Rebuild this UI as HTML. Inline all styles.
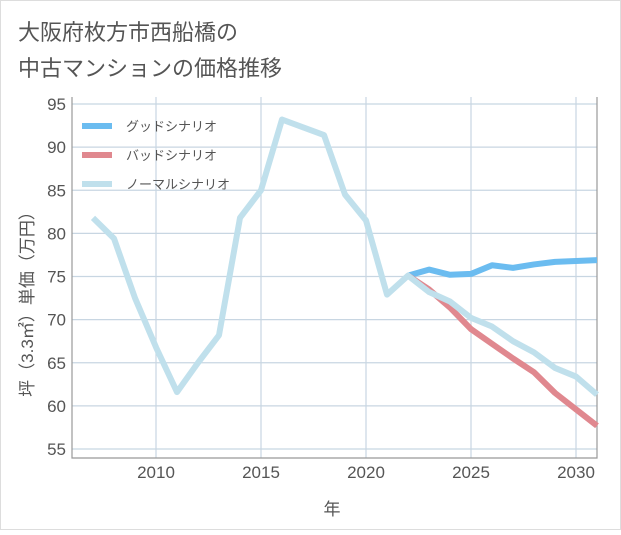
<!DOCTYPE html>
<html><head><meta charset="utf-8"><style>
body{margin:0;background:#fff;font-family:"Liberation Sans","Noto Sans CJK JP",sans-serif}
</style></head><body>
<svg width="621" height="530" xmlns="http://www.w3.org/2000/svg" id="svg">
<rect x="0.5" y="0.5" width="620" height="529" fill="#fff" stroke="#ddd"/>
<text x="18" y="40" font-size="22" fill="#555">大阪府枚方市西船橋の</text>
<text x="18" y="76" font-size="22" fill="#555">中古マンションの価格推移</text>
<g id="grid"></g>
<g id="lines"></g>
<g id="legend"></g>
<text x="332" y="515" font-size="17" fill="#555" text-anchor="middle">年</text>
<text transform="translate(33,300) rotate(-90)" font-size="17" fill="#555" text-anchor="middle">坪（3.3㎡）単価（万円）</text>
</svg>
<script>
const years=[2007,2008,2009,2010,2011,2012,2013,2014,2015,2016,2017,2018,2019,2020,2021,2022,2023,2024,2025,2026,2027,2028,2029,2030,2031];
const normalValues=[81.8,79.4,72.5,66.8,61.6,65.0,68.2,81.8,85.0,93.2,92.3,91.4,84.5,81.5,72.9,75.1,73.2,72.1,70.2,69.2,67.5,66.2,64.4,63.4,61.3];
const forecastYears=[2022,2023,2024,2025,2026,2027,2028,2029,2030,2031];
const goodValues=[75.1,75.8,75.2,75.3,76.3,76.0,76.4,76.7,76.8,76.9];
const badValues=[75.1,73.5,71.4,68.9,67.2,65.5,63.9,61.5,59.6,57.7];
const yTicks=[55,60,65,70,75,80,85,90,95];
const xTicks=[2010,2015,2020,2025,2030];
const NS="http://www.w3.org/2000/svg";
const L=72,R=597,T=97,B=458;
const x=v=>L+(v-2006)*(R-L)/25;
const y=v=>104+(95-v)*(449-104)/40;
function mk(tag,attrs,parent){const e=document.createElementNS(NS,tag);for(const k in attrs)e.setAttribute(k,attrs[k]);parent.appendChild(e);return e;}
const grid=document.getElementById('grid');
yTicks.forEach(t=>{
 const l=mk('line',{x1:L,x2:R,y1:y(t),y2:y(t),stroke:'#c8d6e2','stroke-width':1.2},grid);
 
 
 const tx=mk('text',{x:L-6,y:y(t)+6,'font-size':17,fill:'#555','text-anchor':'end'},grid);
 tx.textContent=t;
 
 
});
xTicks.forEach(t=>{
 const l=mk('line',{x1:x(t),x2:x(t),y1:T,y2:B,stroke:'#c8d6e2','stroke-width':1.2},grid);
 
 
 const tx=mk('text',{x:x(t),y:B+20,'font-size':17,fill:'#555','text-anchor':'middle'},grid);
 tx.textContent=t;
 
 
});
const ax=mk('path',{d:`M${L} ${T}V${B}H${R}V${T}`,fill:'none',stroke:'#999','stroke-width':1.2},grid);


const lines=document.getElementById('lines');
function series(xs,vs,color,name){
 const p=mk('polyline',{points:xs.map((d,i)=>x(d)+','+y(vs[i])).join(' '),fill:'none',stroke:color,'stroke-width':6,'stroke-linejoin':'round'},lines);
 
 
}
series(forecastYears,goodValues,'#6bbcf0','good-scenario-line');
series(forecastYears,badValues,'#e0888f','bad-scenario-line');
series(years,normalValues,'#c0e0ec','normal-scenario-line');
const lg=document.getElementById('legend');
[['グッドシナリオ','#6bbcf0'],['バッドシナリオ','#e0888f'],['ノーマルシナリオ','#c0e0ec']].forEach((d,i)=>{
 const yy=126+i*29;
 const s=mk('line',{x1:82,x2:112,y1:yy,y2:yy,stroke:d[1],'stroke-width':6},lg);
 
 
 const t=mk('text',{x:126,y:yy+5,'font-size':13,fill:'#555'},lg);
 t.textContent=d[0];
 
 
});
</script>
</body></html>
